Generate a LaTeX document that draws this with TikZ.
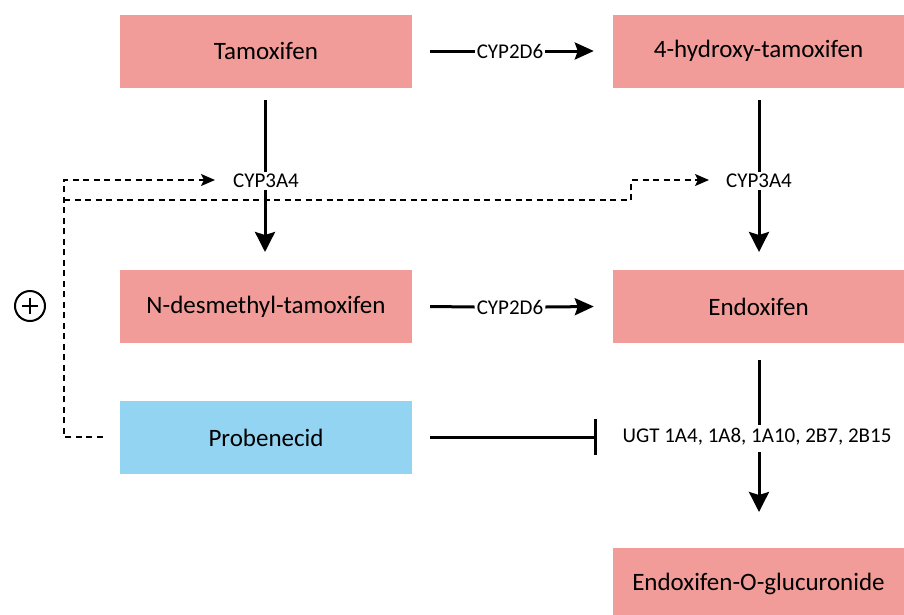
\documentclass[tikz,border=0pt]{standalone}
\usepackage{fontspec}
\setmainfont{Carlito}
\usetikzlibrary{arrows.meta}
\definecolor{salmon}{HTML}{F19C98}
\definecolor{skyb}{HTML}{92D4F1}
\tikzset{
  box/.style={fill=salmon, draw=none, minimum width=292pt, minimum height=73pt, inner sep=0pt, font=\fontsize{25pt}{30pt}\selectfont, text=black},
  bluebox/.style={box, fill=skyb},
  enz/.style={font=\fontsize{21pt}{25pt}\selectfont, inner sep=2pt, text=black},
  conn/.style={line width=3pt},
  arr/.style={conn, -{Stealth[length=20pt,width=20pt,inset=3pt]}},
  harr/.style={conn, -{Stealth[length=19pt,width=17pt,inset=3pt]}},
  dsh/.style={line width=1.6pt, dash pattern=on 6pt off 4.5pt},
  darr/.style={dsh, -{Stealth[length=14pt,width=12pt,inset=3pt]}},
  inh/.style={conn, -{Bar[width=36pt,line width=3pt]}}
}
\begin{document}
\begin{tikzpicture}[x=1pt,y=-1pt]
\useasboundingbox (0,0) rectangle (904,614);
% boxes
\node[box] (tam) at (266,51) {Tamoxifen};
\node[box, minimum width=291pt] (hyd) at (758.5,51) {4-hydroxy-tamoxifen};
\node[box] (nd) at (266,306.5) {N-desmethyl-tamoxifen};
\node[box, minimum width=291pt] (endo) at (758.5,306.5) {Endoxifen};
\node[bluebox] (prob) at (266,437.5) {Probenecid};
\node[box, minimum width=291pt] (gluc) at (758.5,584) {Endoxifen-O-glucuronide};
% enzyme labels
\node[enz] (c2d6a) at (510,51) {CYP2D6};
\node[enz] (c2d6b) at (510,307) {CYP2D6};
\node[enz] (c3a4l) at (266,181) {CYP3A4};
\node[enz] (c3a4r) at (759,181) {CYP3A4};
\node[enz, inner sep=4pt] (ugt) at (757,437) {UGT 1A4, 1A8, 1A10, 2B7, 2B15};
% solid connectors
\draw[conn] ([xshift=18pt]tam.east) -- (c2d6a.west);
\draw[harr] (c2d6a.east) -- ([xshift=-19pt]hyd.west);
\draw[conn] ([xshift=18pt]nd.east) -- (c2d6b.west);
\draw[harr] (c2d6b.east) -- ([xshift=-19pt]endo.west);
\draw[conn] (265,100) -- (c3a4l.north -| 265,0);
\draw[arr] (c3a4l.south -| 265,0) -- (265,252);
\draw[conn] (759,100) -- (c3a4r.north -| 759,0);
\draw[arr] (c3a4r.south -| 759,0) -- (759,252);
\draw[conn] (759,360) -- (759,425);
\draw[arr] (759,452) -- (759,512);
\coordinate (bar) at (597,437);
\draw[inh] ([xshift=18pt]prob.east |- 0,437) -- (bar);
% dashed connectors
\coordinate (dl) at (64,437);
\draw[darr] ([xshift=-17pt]prob.west |- 0,437) -- (dl) -- (64,180) -- (215,180);
\draw[darr] (64,200) -- (631,200) -- (631,180) -- (709,180);
% plus sign
\node[circle, draw, line width=2pt, minimum size=30pt, inner sep=0pt] (plus) at (30,306) {};
\draw[line width=2pt] ([xshift=-8pt]plus.center) -- ([xshift=8pt]plus.center);
\draw[line width=2pt] ([yshift=-8pt]plus.center) -- ([yshift=8pt]plus.center);
\end{tikzpicture}
\end{document}
